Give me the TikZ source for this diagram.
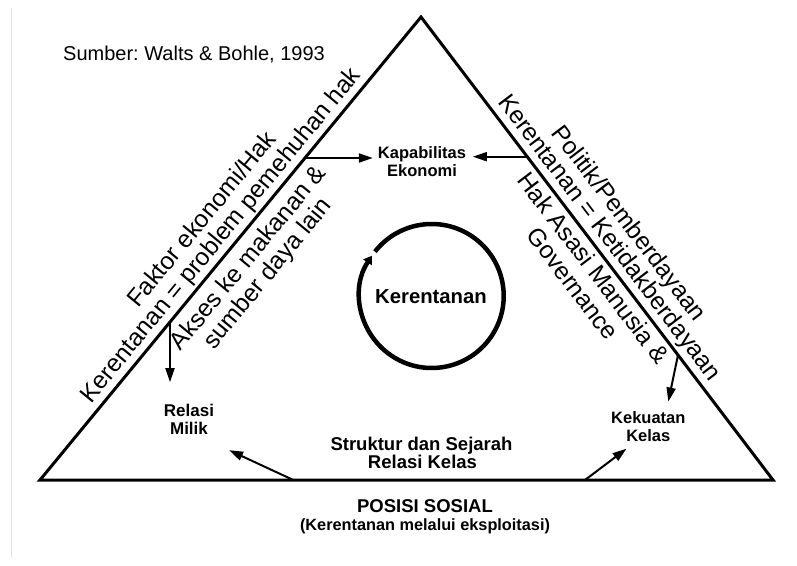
\documentclass[tikz,border=0pt]{standalone}
\usepackage{fontspec}
\setmainfont{Liberation Sans}
\usetikzlibrary{arrows.meta,calc}
\frenchspacing
\begin{document}
\begin{tikzpicture}[x=1pt,y=1pt,
  tri/.style={line width=3pt, line join=miter},
  arr/.style={line width=2pt, -{Triangle[length=14pt,width=9pt]}},
  side/.style={font=\fontsize{24.5}{24.5}\selectfont, inner sep=0pt, anchor=base},
  lbl/.style={font=\fontsize{16.5}{16.5}\selectfont\bfseries, inner sep=0pt, anchor=base},
  big/.style={font=\fontsize{18.5}{18.5}\selectfont\bfseries, inner sep=0pt, anchor=base}]
\useasboundingbox (0,0) rectangle (797,565);
\fill[white] (0,0) rectangle (797,565);
\draw[gray!22, line width=1pt] (11,8) -- (11,557);

% triangle
\coordinate (A) at (40,85);
\coordinate (T) at (421,548);
\coordinate (B) at (773,85);
\draw[tri] (A) -- (T) -- (B) -- cycle;

% source
\node[anchor=base west, font=\fontsize{20}{20}\selectfont, inner sep=0pt] (src) at (63,504) {Sumber: Walts \& Bohle, 1993};

% left side texts
\coordinate (Lm) at ($(A)!0.507!(T)$);
\node[side, rotate=50.55] (l1) at ([shift={(140.55:8.5pt)}]Lm) {Kerentanan = problem pemehuhan hak};
\node[side, rotate=50.55] (l2) at ([shift={(140.55:33pt)}]Lm) {Faktor ekonomi/Hak};
\node[side, rotate=50.55] (l3) at ([shift={(320.55:27pt)}]Lm) {Akses ke makanan \&};
\node[side, rotate=50.55] (l4) at ([shift={(320.55:52pt)}]Lm) {sumber daya lain};

% right side texts
\coordinate (Rm) at ($(T)!0.4986!(B)$);
\coordinate (Ri) at ($(T)!0.5227!(B)$);
\node[side, rotate=-52.76] (r1) at ([shift={(37.24:9pt)}]Rm) {Kerentanan = Ketidakberdayaan};
\node[side, rotate=-52.76] (r2) at ([shift={(37.24:33pt)}]Rm) {Politik/Pemberdayaan};
\node[side, rotate=-52.76] (r3) at ([shift={(217.24:23pt)}]Ri) {Hak Asasi Manusia \&};
\node[side, rotate=-52.76] (r4) at ([shift={(217.24:49pt)}]Ri) {Governance};

% Kapabilitas Ekonomi
\node[lbl] (kap1) at (422,406.7) {Kapabilitas};
\node[lbl] (kap2) at (422,388.3) {Ekonomi};
\coordinate (kapL) at (304.2,407);
\coordinate (kapR) at (527.2,408.3);
\draw[arr] (kapL) -- ($(kap1.west |- kapL)+(-5,0)$);
\draw[arr] (kapR) -- ($(kap1.east |- kapR)+(6.6,0)$);

% circle
\coordinate (cc) at (431.7,269);
\node[font=\fontsize{20.3}{20.3}\selectfont\bfseries, inner sep=0pt, anchor=base] (ker) at (431,261.7) {Kerentanan};
\draw[line width=4.5pt, -{Triangle[length=8pt,width=10pt]}] ($(cc)+(142:72pt)$) arc[start angle=142, end angle=-214, radius=72pt];

% Relasi Milik
\node[lbl, font=\fontsize{17}{17}\selectfont\bfseries] (rel1) at (189,148.3) {Relasi};
\node[lbl, font=\fontsize{17}{17}\selectfont\bfseries] (rel2) at (189,131) {Milik};
\coordinate (relL) at (170,243);
\draw[arr] (relL) -- ($(rel1.north -| relL)+(0,22)$);
\coordinate (relB) at (293.3,85);
\draw[arr] (relB) -- ($(rel2.south east)+(21,-16)$);

% Kekuatan Kelas
\node[lbl] (kek1) at (648.3,141.7) {Kekuatan};
\node[lbl] (kek2) at (648.3,123.3) {Kelas};
\coordinate (kekR) at (678,210);
\draw[arr] (kekR) -- ($(kek1.north)+(20,9.6)$);
\coordinate (kekB) at (585,85);
\draw[arr] (kekB) -- ($(kek2.south west)+(0.4,-6.6)$);

% bottom texts
\node[big] (str1) at (421.5,115) {Struktur dan Sejarah};
\node[big] (str2) at (422.5,96.7) {Relasi Kelas};
\node[big] (pos1) at (425,53) {POSISI SOSIAL};
\node[lbl, font=\fontsize{16.3}{16.3}\selectfont\bfseries] (pos2) at (425,34.5) {(Kerentanan melalui eksploitasi)};
\end{tikzpicture}
\end{document}
